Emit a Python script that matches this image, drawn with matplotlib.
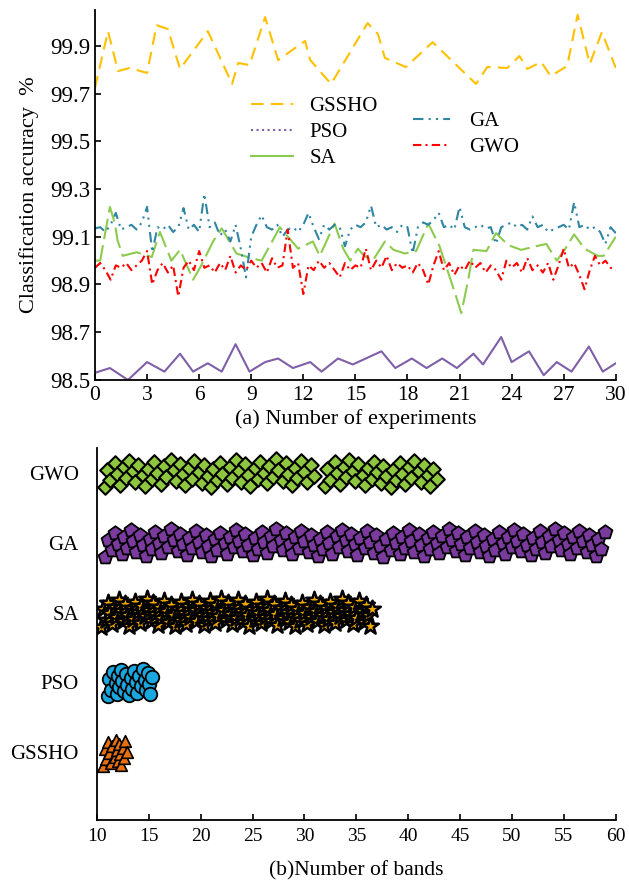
import numpy as np
import matplotlib.pyplot as plt
from matplotlib.lines import Line2D

plt.rcParams['font.family'] = ['Liberation Serif', 'DejaVu Serif']

# ---------------- (a) classification accuracy ----------------
gssho_x = [0, 0.75, 1.33, 2.0, 3.0, 3.55, 4.2, 4.9, 6.5, 7.9, 8.25, 8.9, 9.8, 10.55,
           12.1, 12.4, 13.6, 15.7, 16.3, 16.7, 17.9, 19.45, 21.95, 22.6, 23.75, 24.45,
           24.9, 25.7, 26.25, 27.2, 27.8, 28.5, 29.2, 30.0]
gssho_acc = [99.723, 99.961, 99.794, 99.807, 99.786, 99.986, 99.970, 99.803, 99.961,
             99.740, 99.828, 99.819, 100.02, 99.840, 99.920, 99.840, 99.740, 99.995,
             99.949, 99.849, 99.811, 99.915, 99.740, 99.811, 99.807, 99.857, 99.803,
             99.832, 99.773, 99.815, 100.03, 99.824, 99.957, 99.807]

pso_x = [0, 0.86, 1.9, 3.0, 4.0, 4.9, 5.65, 6.5, 7.3, 8.1, 8.9, 9.8, 10.55, 11.4, 12.4,
         13.05, 14.0, 14.85, 16.5, 17.3, 18.25, 19.1, 20.0, 20.85, 21.8, 22.35, 23.4,
         24.0, 25.0, 25.85, 26.6, 27.45, 28.45, 29.25, 30.0]
pso_acc = [98.53, 98.55, 98.50, 98.575, 98.535, 98.61, 98.535, 98.57, 98.535, 98.65,
           98.535, 98.575, 98.59, 98.55, 98.575, 98.535, 98.59, 98.565, 98.62, 98.55,
           98.59, 98.55, 98.59, 98.55, 98.61, 98.565, 98.68, 98.575, 98.62, 98.52,
           98.575, 98.535, 98.64, 98.535, 98.57]

sa_x = [0, 0.3, 0.86, 1.15, 1.3, 1.6, 2.4, 3.27, 3.74, 4.4, 4.9, 5.65, 6.05, 6.8, 7.3,
        8.15, 9.0, 9.6, 10.65, 11.7, 12.55, 12.95, 13.8, 14.3, 14.7, 15.15, 15.5, 16.0,
        16.7, 17.2, 17.85, 18.5, 19.2, 19.85, 20.8, 21.1, 21.5, 21.8, 22.55, 23.1, 23.8,
        24.55, 25.4, 26.0, 26.6, 27.05, 27.6, 28.2, 28.95, 29.3, 30.0]
sa_acc = [99.0, 99.0, 99.225, 99.155, 99.085, 99.02, 99.035, 99.015, 99.12, 99.0,
          99.045, 98.92, 98.97, 99.08, 99.135, 99.03, 99.01, 99.0, 99.14, 99.05,
          99.08, 99.02, 99.155, 99.05, 99.0, 99.05, 99.02, 99.0, 99.08, 99.045,
          99.03, 99.04, 99.155, 99.06, 98.85, 98.78, 98.92, 99.045, 99.04, 99.115,
          99.065, 99.045, 99.06, 99.07, 99.0, 99.045, 99.11, 99.05, 99.02, 99.02, 99.1]

# GA and GWO sampled every 0.3 experiment
fine_x = np.arange(101) * 0.3
ga_acc = [99.135, 99.14, 99.12, 99.15, 99.2, 99.13, 99.14, 99.15, 99.13, 99.16,
          99.225, 99.035, 99.14, 99.13, 99.15, 99.12, 99.14, 99.22, 99.13, 99.15,
          99.12, 99.28, 99.14, 99.16, 99.105, 99.13, 99.08, 99.15, 99.05, 98.93,
          99.1, 99.15, 99.19, 99.14, 99.13, 99.15, 99.1, 99.13, 99.14, 99.12,
          99.15, 99.2, 99.14, 99.09, 99.15, 99.13, 99.15, 99.14, 99.06, 99.13,
          99.15, 99.14, 99.16, 99.23, 99.14, 99.15, 99.13, 99.14, 99.12, 99.15,
          99.14, 99.03, 99.14, 99.16, 99.15, 99.17, 99.2, 99.14, 99.15, 99.13,
          99.225, 99.14, 99.13, 99.14, 99.15, 99.135, 99.14, 99.07, 99.14, 99.15,
          99.16, 99.14, 99.15, 99.13, 99.185, 99.14, 99.15, 99.12, 99.13, 99.14,
          99.15, 99.13, 99.245, 99.14, 99.15, 99.13, 99.14, 99.12, 99.07, 99.14, 99.115]
gwo_acc = [98.97, 98.99, 98.96, 98.92, 98.98, 98.97, 98.99, 98.96, 98.98, 99.00,
           99.04, 98.90, 98.96, 98.99, 98.95, 98.98, 98.85, 98.97, 99.00, 98.96,
           99.04, 98.97, 98.98, 98.95, 98.99, 98.96, 99.02, 98.95, 98.98, 98.96,
           99.00, 98.97, 98.99, 98.95, 99.01, 98.97, 98.98, 99.13, 98.97, 98.99,
           98.86, 98.98, 98.96, 99.00, 98.97, 98.99, 98.96, 98.93, 98.99, 98.96,
           98.98, 98.97, 99.05, 98.96, 99.00, 98.97, 99.02, 98.96, 98.99, 98.97,
           98.98, 98.95, 98.99, 98.96, 98.90, 98.98, 99.04, 98.96, 98.99, 98.94,
           98.98, 98.96, 99.00, 98.97, 98.99, 98.95, 98.98, 98.96, 98.92, 99.00,
           98.97, 98.99, 98.95, 99.01, 98.96, 98.98, 98.95, 98.99, 98.92, 98.98,
           99.05, 98.97, 98.99, 98.94, 98.88, 98.96, 99.02, 98.98, 99.00, 98.97, 98.96]

# ---------------- (b) number of selected bands ----------------
algos = ['GSSHO', 'PSO', 'SA', 'GA', 'GWO']
gssho_bands = [10.6, 10.8, 10.9, 11.1, 11.2, 11.4, 11.5, 11.7, 11.8, 11.9, 12.0, 12.1,
               12.2, 12.3, 12.5, 12.6, 12.7, 12.9]
pso_bands = [11.1, 11.2, 11.4, 11.6, 11.8, 11.9, 12.0, 12.1, 12.3, 12.4, 12.6, 12.8,
             12.9, 13.1, 13.3, 13.4, 13.6, 13.8, 13.9, 14.1, 14.3, 14.4, 14.6, 14.7,
             14.9, 15.0, 15.1, 15.3]
sa_bands = [10.4, 10.6, 10.9, 11.1, 11.2, 11.5, 11.7, 11.8, 12.1, 12.3,
            12.5, 12.7, 12.9, 13.1, 13.4, 13.5, 13.7, 14.0, 14.2, 14.3,
            14.6, 14.8, 15.0, 15.2, 15.4, 15.6, 15.9, 16.0, 16.2, 16.5,
            16.7, 16.9, 17.1, 17.3, 17.5, 17.8, 18.0, 18.1, 18.4, 18.6,
            18.8, 19.0, 19.2, 19.5, 19.6, 19.8, 20.1, 20.3, 20.5, 20.7,
            20.9, 21.1, 21.4, 21.5, 21.7, 22.0, 22.2, 22.4, 22.6, 22.8,
            23.0, 23.3, 23.4, 23.6, 23.9, 24.1, 24.3, 24.5, 24.7, 24.9,
            25.2, 25.3, 25.5, 25.8, 26.0, 26.2, 26.4, 26.6, 26.8, 27.1,
            27.2, 27.4, 27.7, 27.9, 28.1, 28.3, 28.5, 28.7, 29.0, 29.1,
            29.3, 29.6, 29.8, 30.0, 30.2, 30.4, 30.6, 30.9, 31.0, 31.2,
            31.5, 31.7, 31.9, 32.1, 32.3, 32.5, 32.8, 32.9, 33.1, 33.4,
            33.6, 33.8, 34.0, 34.2, 34.4, 34.7, 34.8, 35.0, 35.3, 35.5,
            35.7, 35.9, 36.1, 36.3, 36.5]
ga_bands = [10.8, 11.1, 11.5, 11.7, 12.0, 12.4, 12.6, 12.9, 13.3, 13.5,
            13.8, 14.2, 14.4, 14.7, 15.1, 15.3, 15.6, 16.0, 16.2, 16.5,
            16.9, 17.1, 17.4, 17.8, 18.0, 18.3, 18.7, 18.9, 19.2, 19.6,
            19.8, 20.1, 20.5, 20.7, 21.0, 21.4, 21.6, 21.9, 22.3, 22.5,
            22.8, 23.2, 23.4, 23.7, 24.1, 24.3, 24.6, 25.0, 25.2, 25.5,
            25.9, 26.1, 26.4, 26.8, 27.0, 27.3, 27.7, 27.9, 28.2, 28.6,
            28.8, 29.1, 29.5, 29.7, 30.0, 30.4, 30.6, 30.9, 31.3, 31.5,
            31.8, 32.2, 32.4, 32.7, 33.1, 33.3, 33.6, 34.0, 34.2, 34.5,
            34.9, 35.1, 35.4, 35.8, 36.0, 36.3, 36.7, 36.9, 37.3, 37.6,
            37.9, 38.3, 38.5, 38.8, 39.2, 39.4, 39.7, 40.1, 40.3, 40.6,
            41.0, 41.2, 41.5, 41.9, 42.1, 42.4, 42.8, 43.0, 43.3, 43.7,
            43.9, 44.2, 44.6, 44.8, 45.1, 45.5, 45.7, 46.0, 46.4, 46.6,
            46.9, 47.3, 47.5, 47.8, 48.2, 48.4, 48.7, 49.1, 49.3, 49.6,
            50.0, 50.2, 50.5, 50.9, 51.1, 51.4, 51.8, 52.0, 52.3, 52.7,
            52.9, 53.2, 53.6, 53.8, 54.1, 54.5, 54.7, 55.0, 55.4, 55.6,
            55.9, 56.3, 56.5, 56.8, 57.2, 57.4, 57.7, 58.1, 58.3, 58.6, 59.0]
gwo_bands = [10.8, 11.0, 11.3, 11.7, 11.9, 12.2, 12.6, 12.8, 13.1, 13.5,
             13.7, 14.0, 14.4, 14.6, 14.9, 15.3, 15.5, 15.8, 16.2, 16.5,
             16.7, 17.1, 17.4, 17.6, 18.0, 18.3, 18.5, 18.9, 19.2, 19.4,
             19.8, 20.1, 20.3, 20.7, 21.0, 21.2, 21.6, 21.9, 22.1, 22.5,
             22.8, 23.0, 23.4, 23.7, 23.9, 24.3, 24.6, 24.8, 25.2, 25.5,
             25.7, 26.1, 26.4, 26.6, 27.0, 27.3, 27.5, 27.9, 28.2, 28.4,
             28.8, 29.1, 29.3, 29.7, 30.0, 30.2, 30.6, 30.9, 32.0, 32.2,
             32.5, 32.9, 33.1, 33.4, 33.8, 34.0, 34.3, 34.7, 34.9, 35.2,
             35.6, 35.8, 36.1, 36.5, 36.7, 37.0, 37.4, 37.6, 37.9, 38.3,
             38.5, 38.8, 39.2, 39.4, 39.7, 40.1, 40.3, 40.6, 41.0, 41.2,
             41.5, 41.9, 42.1, 42.4, 42.8]

colors = {'GSSHO': '#FFC000', 'PSO': '#7E5FA8', 'SA': '#8CCB4E',
          'GA': '#2F86A3', 'GWO': '#FF0000'}

fig = plt.figure(figsize=(6.29, 8.81), dpi=100)
ax1 = fig.add_axes([0.151, 0.5687, 0.828, 0.42])
ax2 = fig.add_axes([0.154, 0.0692, 0.825, 0.4223])

# top panel
ax1.plot(gssho_x, gssho_acc, color=colors['GSSHO'], lw=1.5, dashes=(6, 3.5))
ax1.plot(pso_x, pso_acc, color=colors['PSO'], lw=1.5)
ax1.plot(sa_x, sa_acc, color=colors['SA'], lw=1.5, dashes=(10, 3))
ax1.plot(fine_x, ga_acc, color=colors['GA'], lw=1.5, dashes=(5, 2.5, 1, 2.5, 1, 2.5))
ax1.plot(fine_x, gwo_acc, color=colors['GWO'], lw=1.5, dashes=(4, 2, 1, 2))

ax1.set_xlim(0, 30)
ax1.set_ylim(98.5, 100.05)
ax1.set_xticks(range(0, 31, 3))
ax1.set_yticks([98.5, 98.7, 98.9, 99.1, 99.3, 99.5, 99.7, 99.9])
ax1.set_yticklabels(['98.5', '98.7', '98.9', '99.1', '99.3', '99.5', '99.7', '99.9'])
ax1.tick_params(axis='y', direction='in', length=4, width=1.2, labelsize=16.5, pad=3)
ax1.tick_params(axis='x', direction='in', length=4, width=1.2, labelsize=15.5, pad=4)
ax1.set_xlabel('(a) Number of experiments', fontsize=16, labelpad=3)
ax1.set_ylabel('Classification accuracy  %', fontsize=16, labelpad=8)

h1 = [Line2D([], [], color=colors['GSSHO'], lw=1.5, dashes=(6, 3.5)),
      Line2D([], [], color=colors['PSO'], lw=1.5, ls=':'),
      Line2D([], [], color=colors['SA'], lw=1.5)]
leg1 = ax1.legend(h1, ['GSSHO', 'PSO', 'SA'], loc='upper left',
                  bbox_to_anchor=(0.30, 0.765), frameon=False, fontsize=15,
                  borderpad=0, borderaxespad=0, labelspacing=0.3,
                  handlelength=2.0, handletextpad=0.8)
ax1.add_artist(leg1)
h2 = [Line2D([], [], color=colors['GA'], lw=1.5, dashes=(5, 2.5, 1, 2.5, 1, 2.5)),
      Line2D([], [], color=colors['GWO'], lw=1.5, dashes=(4, 2, 1, 2))]
ax1.legend(h2, ['GA', 'GWO'], loc='upper left', bbox_to_anchor=(0.61, 0.725),
           frameon=False, fontsize=15, borderpad=0, borderaxespad=0,
           labelspacing=0.3, handlelength=1.8, handletextpad=0.9)

# bottom panel
styles = {
    'GSSHO': dict(marker='^', s=70, fc='#E8700F', lw=1.2),
    'PSO': dict(marker='o', s=95, fc='#1AA7E0', lw=1.3),
    'SA': dict(marker='*', s=160, fc='#F2A900', lw=1.8),
    'GA': dict(marker='p', s=110, fc='#7B3A9E', lw=1.3),
    'GWO': dict(marker='D', s=55, fc='#8DC63F', lw=1.5),
}
bands = {'GSSHO': gssho_bands, 'PSO': pso_bands, 'SA': sa_bands,
         'GA': ga_bands, 'GWO': gwo_bands}
spread = 0.2
for pos, name in enumerate(algos, start=1):
    xs = np.array(bands[name])
    idx = np.arange(len(xs))
    ys = pos + spread * (((idx * 0.618034) % 1) * 2 - 1)
    st = styles[name]
    ax2.scatter(xs, ys, marker=st['marker'], s=st['s'], facecolor=st['fc'],
                edgecolor='black', linewidths=st['lw'], zorder=3)

ax2.set_xlim(10, 60)
ax2.set_ylim(0.025, 5.36)
ax2.set_xticks(range(10, 61, 5))
ax2.set_yticks(range(1, 6))
ax2.set_yticklabels(algos)
ax2.tick_params(axis='x', direction='in', length=4, width=1.2, labelsize=14, pad=6)
ax2.tick_params(axis='y', length=0, labelsize=15, pad=13)
ax2.set_xlabel('(b)Number of bands', fontsize=15.5, labelpad=11)

for ax in (ax1, ax2):
    ax.spines['top'].set_visible(False)
    ax.spines['right'].set_visible(False)
    ax.spines['left'].set_linewidth(1.3)
    ax.spines['bottom'].set_linewidth(1.3)

fig.savefig('out.png', dpi=100)
